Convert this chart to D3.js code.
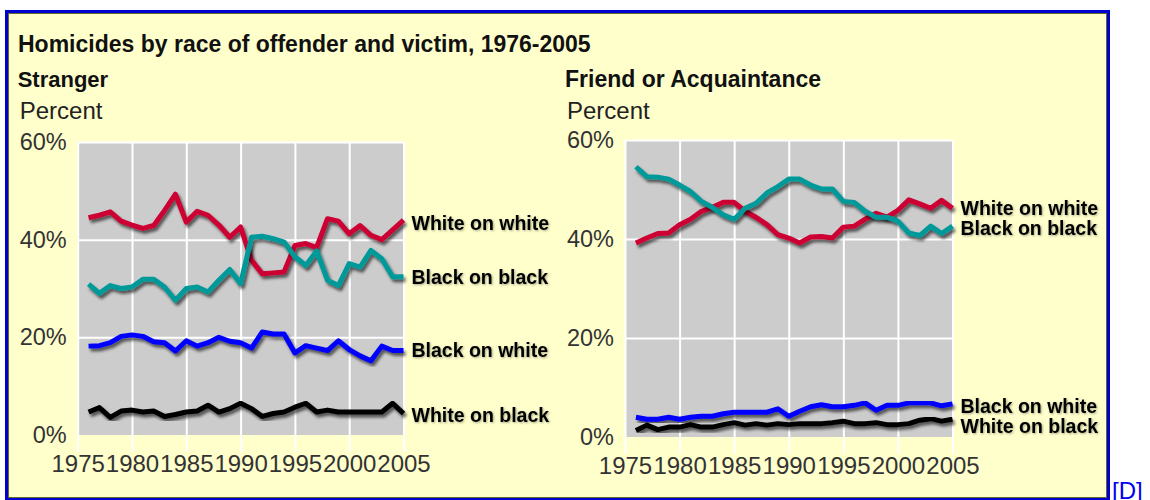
<!DOCTYPE html>
<html>
<head>
<meta charset="utf-8">
<script src="https://cdn.jsdelivr.net/npm/d3@7"></script>
<style>
  body { margin: 0; background: #fff; }
  svg { display: block; }
  text { font-family: "Liberation Sans", Arial, sans-serif; }
</style>
</head>
<body>
<div id="chart"></div>
<script>
// years 1976-2005
const years = [1976,1977,1978,1979,1980,1981,1982,1983,1984,1985,1986,1987,1988,1989,1990,
               1991,1992,1993,1994,1995,1996,1997,1998,1999,2000,2001,2002,2003,2004,2005];
const xTicks = [1975,1980,1985,1990,1995,2000,2005];
const yTicks = [0,20,40,60];
const seriesNames = ['White on white','Black on black','Black on white','White on black'];

// Stranger panel (percent)
const strangerWW = [44.5,45,45.7,43.8,43,42.3,42.9,46,49.3,43.6,45.8,45,43,40.5,42.6,
                    35.8,33,33.2,33.4,38.8,39.2,38.4,44.3,43.8,41.2,42.9,40.9,40,42,44];
const strangerBB = [30.9,29,30.6,30,30.3,31.9,31.9,30.3,27.6,30,30.3,29.3,31.7,33.9,31,
                    40.5,40.7,40.2,39.5,36.5,34.7,37.7,31.7,30.6,35.1,34.4,37.8,36.1,32.4,32.4];
const strangerBW = [18.2,18.3,18.9,20.2,20.5,20.2,19.1,18.9,17.2,19.3,18.2,18.9,20,19.2,18.9,
                    17.8,21.1,20.7,20.7,16.8,18.3,17.8,17.3,19.3,17.5,16.2,15.2,18.2,17.3,17.3];
const strangerWB = [4.7,5.6,3.6,4.9,5.1,4.7,4.9,3.8,4.2,4.7,4.9,6.1,4.7,5.4,6.5,
                    5.4,3.8,4.4,4.7,5.7,6.5,4.7,5.1,4.7,4.7,4.7,4.7,4.7,6.5,4.4];

// Friend or acquaintance panel (percent)
const friendWW = [39.2,40.2,41.1,41.2,42.9,44,45.6,46.4,47.4,47.4,45.6,44.4,42.9,40.9,40.2,
                  39.2,40.4,40.5,40.2,42.4,42.6,44,45.2,44.4,45.8,47.9,47.1,46.2,47.8,46.2];
const friendBB = [54.6,52.6,52.5,52.1,50.9,49.6,47.6,46.4,44.9,44,46.2,47.2,49.3,50.6,52.1,
                  52.1,50.9,50.1,50.1,47.6,47.4,45.6,44.4,44.4,43.6,41.2,40.7,42.6,41.1,42.6];
const friendBW = [4,3.6,3.6,4,3.6,4,4.2,4.2,4.7,5,5,5,5,5.7,4.2,
                  5.2,6.1,6.5,6.1,6.1,6.4,6.9,5.4,6.4,6.4,6.9,6.9,6.9,6.3,6.7];
const friendWB = [1.3,2.4,1.5,2,2,2.5,2,2,2.5,2.9,2.4,2.7,2.4,2.7,2.5,
                  2.7,2.7,2.7,2.9,3.2,2.7,2.7,2.9,2.5,2.5,2.7,3.4,3.7,3.2,3.6];

const colors = ['#cc0033','#009999','#0000ff','#000000'];

const W = 1150, H = 500;
const svg = d3.select('#chart').append('svg')
  .attr('width', W).attr('height', H);

const defs = svg.append('defs');
defs.append('filter').attr('id','shadow')
  .attr('x','-10%').attr('y','-10%').attr('width','120%').attr('height','130%')
  .append('feDropShadow')
  .attr('dx', 2).attr('dy', 3).attr('stdDeviation', 1.8)
  .attr('flood-color', '#000').attr('flood-opacity', 0.6);
defs.append('filter').attr('id','tshadow')
  .append('feDropShadow')
  .attr('dx', 1).attr('dy', 1).attr('stdDeviation', 0.8)
  .attr('flood-color', '#000').attr('flood-opacity', 0.35);

// frame
svg.append('rect')
  .attr('x', 6.5).attr('y', 11.5).attr('width', 1102).attr('height', 488)
  .attr('fill', '#ffffcc').attr('stroke', '#0000cc').attr('stroke-width', 3);
svg.append('rect')
  .attr('x', 8.5).attr('y', 13.5).attr('width', 1098).attr('height', 484)
  .attr('fill', 'none').attr('stroke', '#666633').attr('stroke-width', 1);

svg.append('text')
  .attr('x', 18).attr('y', 52)
  .attr('font-size', 23).attr('font-weight', 'bold').attr('fill', '#111')
  .text('Homicides by race of offender and victim, 1976-2005');

svg.append('text')
  .attr('x', 1112).attr('y', 499)
  .attr('font-family', '"DejaVu Sans", sans-serif')
  .attr('font-size', 24).attr('fill', '#0000ee')
  .text('[D]');

function panel(opts) {
  const g = svg.append('g');
  const x = d3.scaleLinear().domain([1975, 2005]).range([opts.x0, opts.x1]);
  const y = d3.scaleLinear().domain([0, 60]).range([opts.y0, opts.y1]);

  g.append('text')
    .attr('x', opts.x0 - 60).attr('y', 87)
    .attr('font-size', opts.titleSize).attr('font-weight', 'bold').attr('fill', '#111')
    .text(opts.title);
  g.append('text')
    .attr('x', opts.x0 - 58).attr('y', 119)
    .attr('font-size', 24).attr('fill', '#222')
    .text('Percent');

  g.append('rect')
    .attr('x', x(1975)).attr('y', y(60))
    .attr('width', x(2005) - x(1975)).attr('height', y(0) - y(60))
    .attr('fill', '#cccccc');

  // vertical grid + ticks below plot
  const xAxis = g.append('g')
    .attr('transform', `translate(0,${y(0)})`)
    .call(d3.axisBottom(x).tickValues(xTicks).tickFormat(d3.format('d'))
      .tickSizeInner(-(y(0) - y(60))).tickSizeOuter(0).tickPadding(24));
  xAxis.select('.domain').remove();
  xAxis.selectAll('.tick line')
    .attr('y2', -(y(0) - y(60))).attr('y1', 17)
    .attr('stroke', '#fff').attr('stroke-width', 2);
  xAxis.selectAll('.tick text')
    .attr('font-size', 24).attr('fill', '#333').attr('font-family', null)
    .attr('dy', '0.55em');

  const yAxis = g.append('g')
    .attr('transform', `translate(${x(1975)},0)`)
    .call(d3.axisLeft(y).tickValues(yTicks).tickFormat(d => d + '%')
      .tickSizeInner(-(x(2005) - x(1975))).tickSizeOuter(0).tickPadding(11));
  yAxis.select('.domain').remove();
  yAxis.selectAll('.tick line')
    .attr('stroke', d => d === 0 ? 'none' : '#fff').attr('stroke-width', 2);
  yAxis.selectAll('.tick text')
    .attr('font-size', 23.5).attr('fill', '#333').attr('font-family', null);

  const line = d3.line()
    .x((d, i) => x(years[i]))
    .y(d => y(d));

  opts.series.forEach((s, k) => {
    g.append('path')
      .datum(s)
      .attr('d', line)
      .attr('fill', 'none')
      .attr('stroke', colors[k])
      .attr('stroke-width', 5)
      .attr('stroke-linejoin', 'round')
      .attr('filter', 'url(#shadow)');
  });

  opts.series.forEach((s, k) => {
    g.append('text')
      .attr('x', x(2005) + 8)
      .attr('y', y(s[s.length - 1]) + opts.nudge[k])
      .attr('dy', '0.35em')
      .attr('font-size', 19.5).attr('font-weight', 'bold').attr('fill', '#000')
      .attr('filter', 'url(#tshadow)')
      .text(seriesNames[k]);
  });
}

panel({
  title: 'Stranger', titleSize: 22,
  x0: 77.7, x1: 403.5, y0: 435, y1: 142,
  series: [strangerWW, strangerBB, strangerBW, strangerWB],
  nudge: [3, 0, 0, 2]
});

panel({
  title: 'Friend or Acquaintance', titleSize: 23,
  x0: 625, x1: 952.5, y0: 437, y1: 140,
  series: [friendWW, friendBB, friendBW, friendWB],
  nudge: [0, 2, 2, 7]
});
</script>
</body>
</html>
